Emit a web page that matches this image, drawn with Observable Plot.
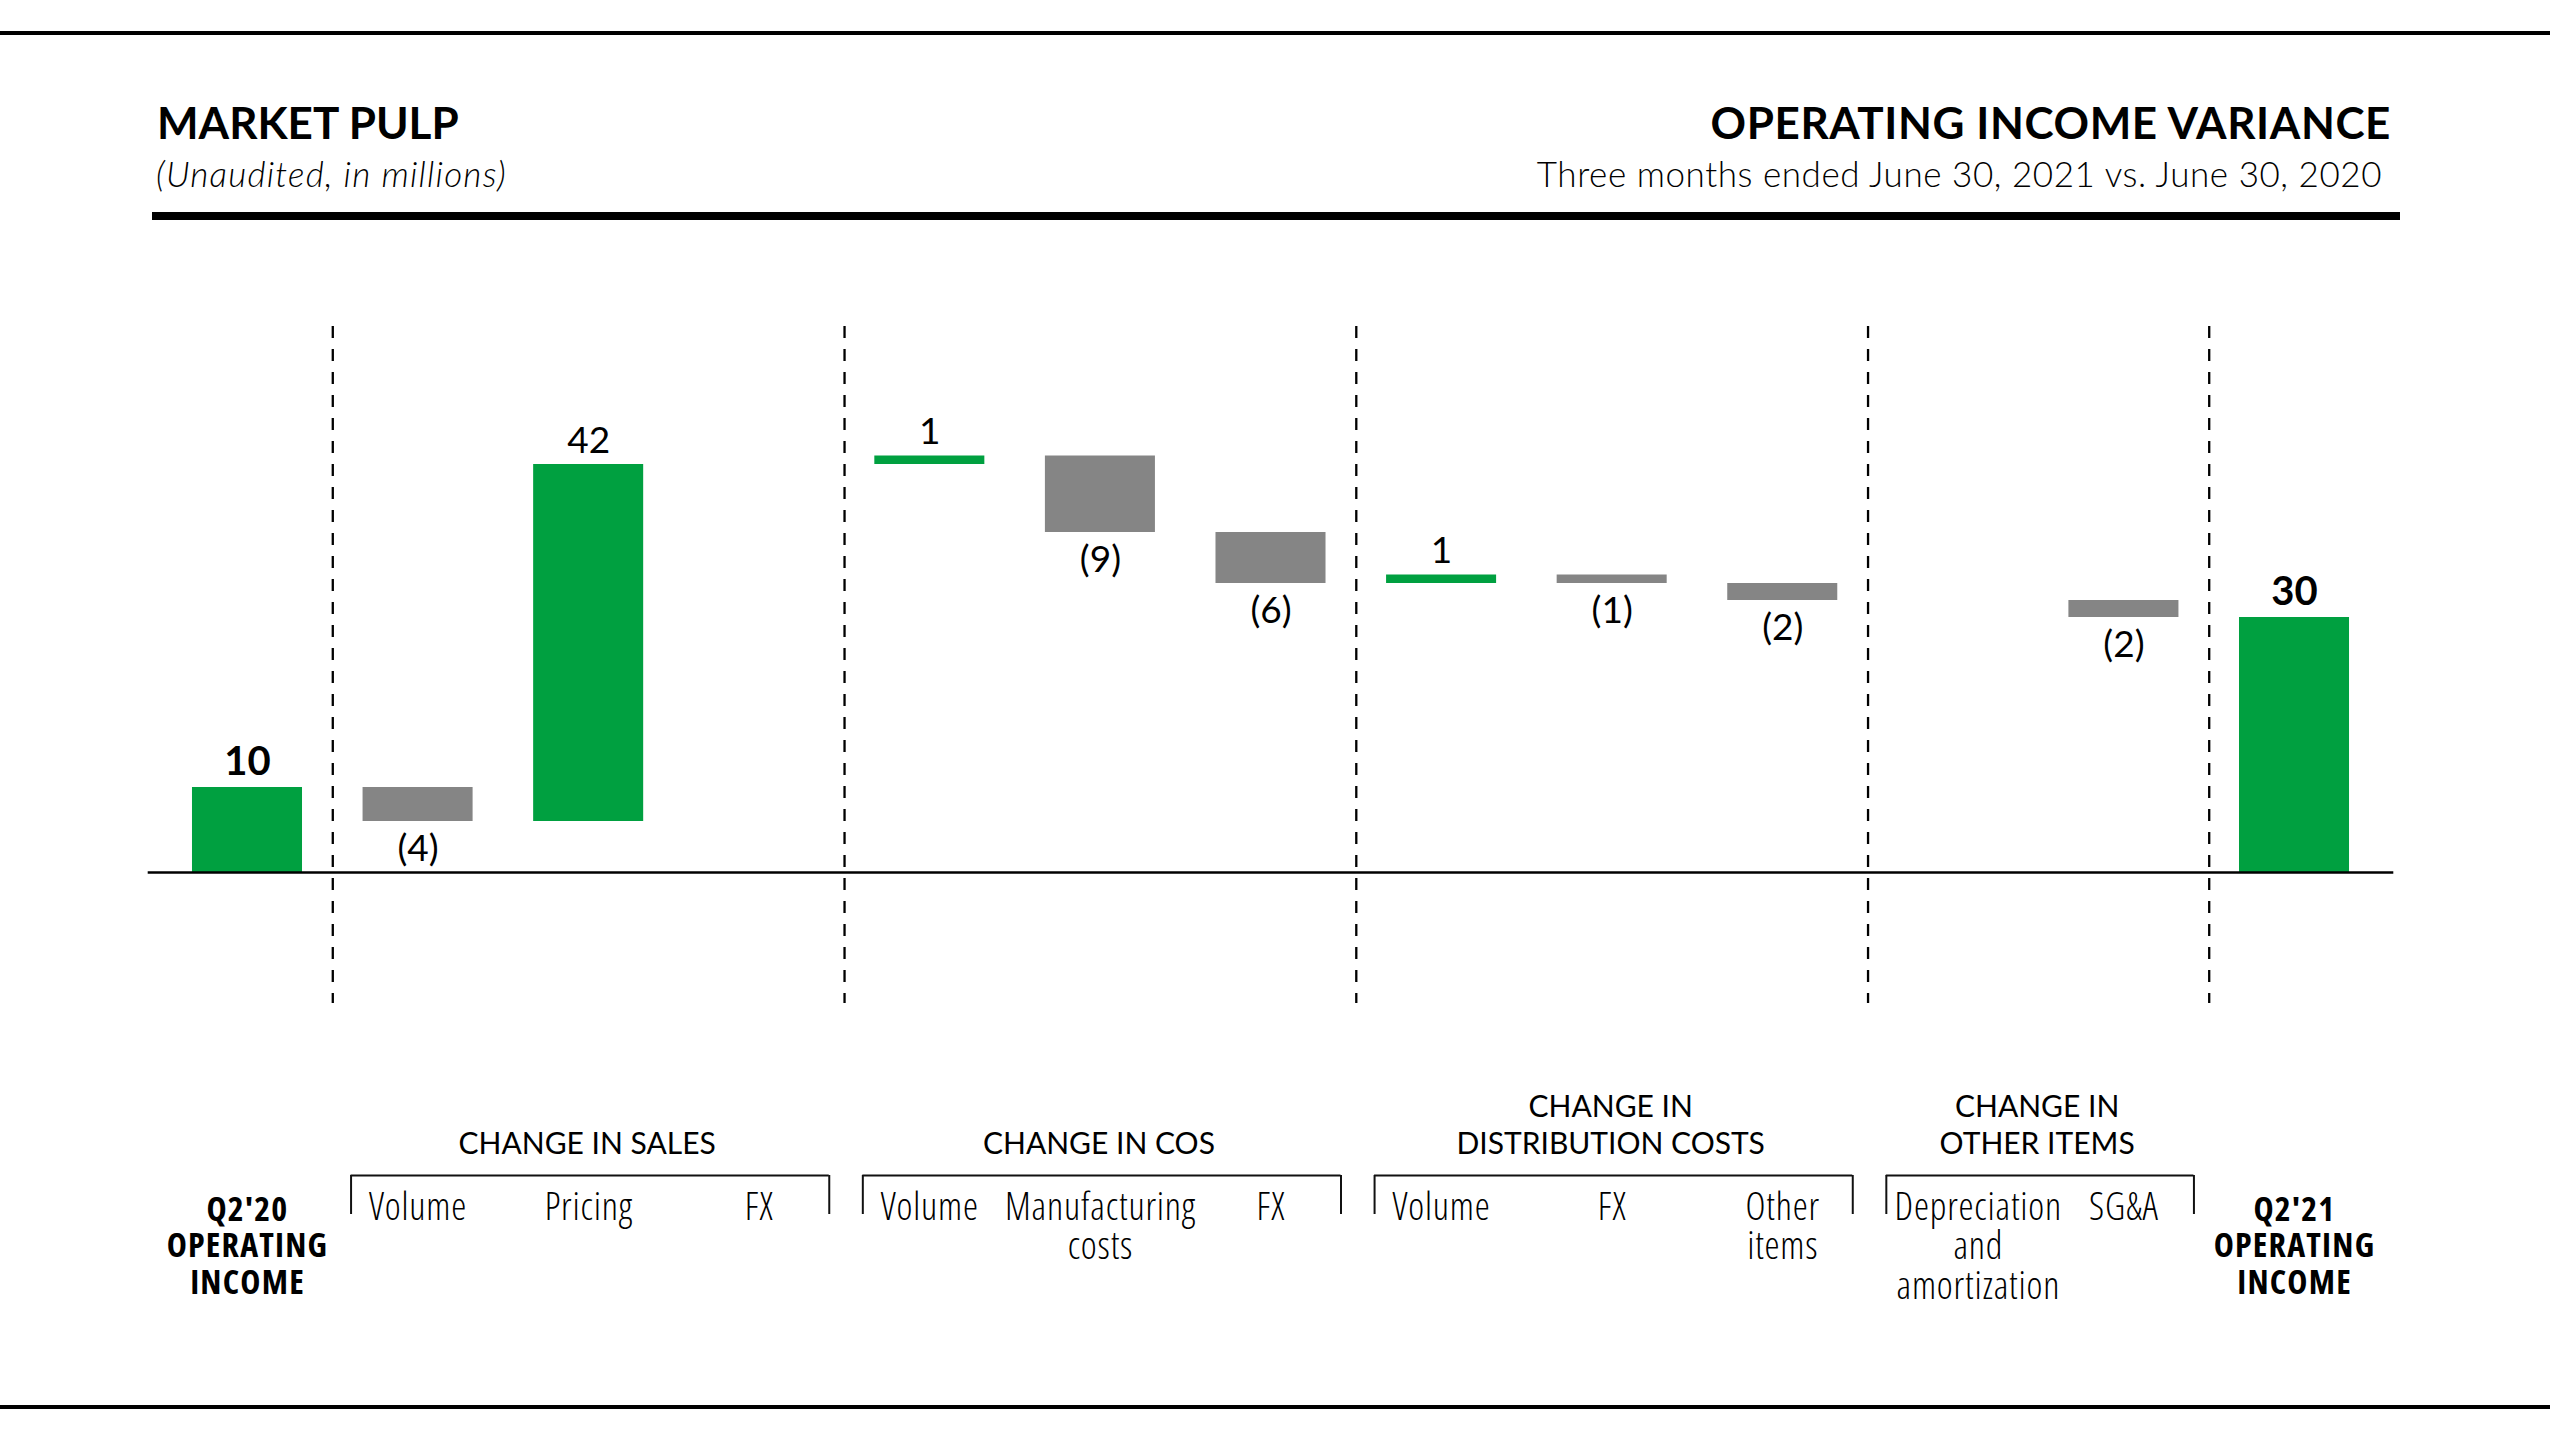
<!DOCTYPE html>
<html><head><meta charset="utf-8">
<script src="https://cdn.jsdelivr.net/npm/d3@7"></script>
<script src="https://cdn.jsdelivr.net/npm/@observablehq/plot@0.6"></script>
<style>
html,body{margin:0;padding:0;background:#fff;}
#page{position:relative;width:2550px;height:1434px;overflow:hidden;background:#fff;}
.rule{position:absolute;background:#000;}
.hdr{position:absolute;white-space:nowrap;line-height:1;color:#000;font-family:Lato,sans-serif;}
#chart{position:absolute;left:0;top:0;}
g[font-family*="Open Sans"]{font-stretch:75%;letter-spacing:0.8px;}
g[font-family*="Open Sans"][font-weight="700"]{letter-spacing:1.2px;}
</style></head><body>
<div id="page">
  <div id="chart"></div>
  <div class="rule" style="left:0;top:31px;width:2550px;height:4px"></div>
  <div class="rule" style="left:152px;top:212px;width:2248px;height:8px"></div>
  <div class="rule" style="left:0;top:1405px;width:2550px;height:4px"></div>
  <div class="hdr" style="left:157px;top:100px;font-size:44px;font-weight:700">MARKET PULP</div>
  <div class="hdr" style="left:156px;top:156px;font-size:35px;font-weight:300;font-style:italic;letter-spacing:1.2px">(Unaudited, in millions)</div>
  <div class="hdr" style="right:159px;top:100px;font-size:44px;font-weight:700;letter-spacing:0.6px">OPERATING INCOME VARIANCE</div>
  <div class="hdr" style="right:168px;top:156px;font-size:35px;font-weight:300;letter-spacing:0.55px">Three months ended June 30, 2021 vs. June 30, 2020</div>
</div>
<script>
// ---- data ----
const categories = ["Q2'20 OPERATING INCOME","Sales Volume","Pricing","Sales FX","COS Volume","Manufacturing costs","COS FX","Distribution Volume","Distribution FX","Other items","Depreciation and amortization","SG&A","Q2'21 OPERATING INCOME"];
const itemLabels = ["Q2'20\nOPERATING\nINCOME","Volume","Pricing","FX","Volume","Manufacturing\ncosts","FX","Volume","FX","Other\nitems","Depreciation\nand\namortization","SG&A","Q2'21\nOPERATING\nINCOME"];
const values = [10,-4,42,0,1,-9,-6,1,-1,-2,0,-2,30];
const kinds = ["total","change","change","change","change","change","change","change","change","change","change","change","total"];
const groupNames = ["CHANGE IN SALES","CHANGE IN COS","CHANGE IN\nDISTRIBUTION COSTS","CHANGE IN\nOTHER ITEMS"];
const groupFirst = [1,4,7,10];
const groupLast = [3,6,9,11];
const separatorBefore = [1,4,7,10,12];

// ---- layout ----
const W = 2550, H = 1434;
const plotTop = 326, plotBottom = 1003, zeroY = 872, ppu = 8.5;
const xLeft = 161.7, xRight = 2379.3, padIn = 0.355;
const step = (xRight - xLeft) / categories.length;
const bw = step * (1 - padIn);
const yLo = (zeroY - plotBottom) / ppu, yHi = (zeroY - plotTop) / ppu;
const yAt = (py) => (zeroY - py) / ppu;
const green = "#00A040", gray = "#858585";
const condensed = "'Open Sans', sans-serif";

let run = 0;
const rows = categories.map((c, i) => {
  const v = values[i];
  let y1, y2;
  if (kinds[i] === "total") { y1 = 0; y2 = v; run = v; }
  else { y1 = run; y2 = run + v; run = y2; }
  return {key: c, label: itemLabels[i], value: v, kind: kinds[i], y1, y2, top: Math.max(y1, y2), bottom: Math.min(y1, y2)};
});
const groups = groupNames.map((n, i) => ({name: n, first: categories[groupFirst[i]], last: categories[groupLast[i]], span: groupLast[i] - groupFirst[i] + 1}));

const changes = rows.filter(d => d.kind === "change");
const totals = rows.filter(d => d.kind === "total");

const chart = Plot.plot({
  width: W, height: H,
  marginTop: plotTop, marginBottom: H - plotBottom, marginLeft: xLeft, marginRight: W - xRight,
  x: {type: "band", domain: categories, paddingInner: padIn, paddingOuter: padIn / 2, round: false, axis: null},
  y: {domain: [yLo, yHi], axis: null},
  color: {type: "identity"},
  style: {fontFamily: "Lato, sans-serif", color: "#000", background: "transparent", overflow: "visible"},
  marks: [
    Plot.ruleX(separatorBefore.map(i => categories[i]), {x: d => d, dx: -step / 2, stroke: "#000", strokeWidth: 2.3, strokeDasharray: "12,11"}),
    Plot.barY(rows.filter(d => d.value !== 0), {x: "key", y1: "y1", y2: "y2", fill: d => d.value > 0 ? green : gray}),
    Plot.ruleY([0], {stroke: "#000", strokeWidth: 2.5, insetLeft: -14, insetRight: -14}),
    Plot.text(changes.filter(d => d.value > 0), {x: "key", y: "top", text: d => String(d.value), lineAnchor: "bottom", dy: -12, fontSize: 37}),
    Plot.text(changes.filter(d => d.value < 0), {x: "key", y: "bottom", text: d => `(${-d.value})`, lineAnchor: "top", dy: 13, fontSize: 37}),
    Plot.text(totals, {x: "key", y: "top", text: d => String(d.value), lineAnchor: "bottom", dy: -13, fontSize: 40, fontWeight: 700}),
    // category labels
    Plot.text(changes.filter(d => d.key !== "Depreciation and amortization"), {x: "key", text: "label", frameAnchor: "bottom", lineAnchor: "top", dy: 189, fontSize: 38, fontWeight: 300, fontFamily: condensed, lineHeight: 1.03}),
    Plot.text(changes.filter(d => d.key === "Depreciation and amortization"), {x: "key", text: "label", frameAnchor: "bottom", lineAnchor: "top", dy: 189, dx: 25, fontSize: 38, fontWeight: 300, fontFamily: condensed, lineHeight: 1.03}),
    Plot.text(totals, {x: "key", text: "label", frameAnchor: "bottom", lineAnchor: "top", dy: 191, fontSize: 34, fontWeight: 700, fontFamily: condensed, lineHeight: 1.08}),
    // group headings
    ...groups.map(g => Plot.text([g], {x: d => d.first, text: "name", frameAnchor: "bottom", lineAnchor: "bottom", dy: 150, dx: (g.span - 1) * step / 2 - 1.5, fontSize: 30, lineHeight: 1.23})),
    // brackets
    Plot.ruleY(groups, {x1: "first", x2: "last", y: yAt(1175), insetLeft: -12, insetRight: -15, stroke: "#111", strokeWidth: 2}),
    Plot.ruleX(groups, {x: "first", y1: yAt(1175), y2: yAt(1214), dx: -(bw / 2 + 12), stroke: "#111", strokeWidth: 2}),
    Plot.ruleX(groups, {x: "last", y1: yAt(1175), y2: yAt(1214), dx: (bw / 2 + 15), stroke: "#111", strokeWidth: 2})
  ]
});
document.getElementById("chart").appendChild(chart);
</script>
</body></html>
